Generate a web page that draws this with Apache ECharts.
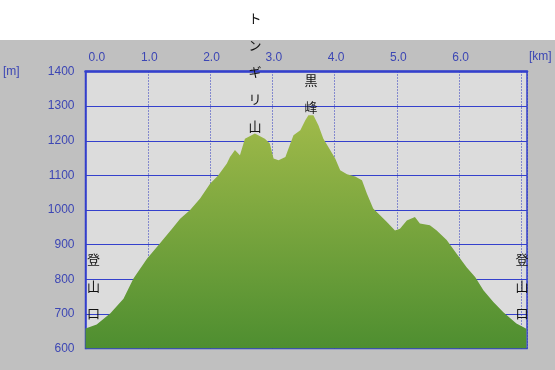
<!DOCTYPE html>
<html>
<head>
<meta charset="utf-8">
<script src="https://cdn.jsdelivr.net/npm/echarts@6/dist/echarts.min.js"></script>
<style>
html,body{margin:0;padding:0;background:#fff;}
#c{width:555px;height:370px;}
</style>
</head>
<body>
<div id="c"></div>
<script>
// distance along trail [km]
const distKm = [0.00,0.18,0.40,0.61,0.77,0.99,1.17,1.39,1.52,1.68,1.84,2.00,2.13,2.27,2.32,2.40,2.48,2.56,2.72,2.88,2.96,3.02,3.10,3.21,3.29,3.34,3.45,3.53,3.58,3.66,3.74,3.82,3.90,4.01,4.09,4.20,4.33,4.44,4.52,4.62,4.73,4.84,4.97,5.05,5.16,5.29,5.37,5.53,5.64,5.80,5.96,6.12,6.26,6.39,6.55,6.71,6.92,7.08];
// elevation [m]
const elevM = [658,669,702,744,802,860,898,946,975,1000,1033,1076,1100,1134,1153,1173,1158,1206,1221,1206,1192,1149,1144,1153,1192,1216,1230,1259,1274,1274,1245,1206,1182,1149,1115,1103,1097,1086,1047,1004,985,965,941,946,970,980,961,956,941,913,874,835,806,768,734,705,672,657];
// tick values
const yTicks = [600,700,800,900,1000,1100,1200,1300,1400];
const xTickLabels = ['0.0','1.0','2.0','3.0','4.0','5.0','6.0'];
// place names (vertical text) with km position
const places = [
  {name:'トンギリ山', km:2.72},
  {name:'黒峰', km:3.62},
  {name:'登山口', km:0.13},
  {name:'登山口', km:7.01}
];

const blue = '#3440cc';
const labelBlue = '#3c46b4';
const chart = echarts.init(document.getElementById('c'), null, {renderer:'canvas'});
const points = distKm.map((d,i)=>[d, elevM[i]]);

chart.setOption({
  animation:false,
  backgroundColor:'#c0c0c0',
  grid:{left:85.5,right:28,top:71.5,bottom:21.5,show:true,backgroundColor:'#dcdcdc',borderColor:blue,borderWidth:1.5},
  xAxis:{
    type:'value', position:'top', min:0, max:7.09, interval:1,
    axisLine:{show:true,lineStyle:{color:blue,width:2.5}},
    axisTick:{show:false},
    axisLabel:{color:labelBlue,fontFamily:'Liberation Sans',fontSize:12,margin:8,alignMinLabel:'left',padding:[0,0,0,3],
      formatter:v=>{const i=Math.round(v);return (Math.abs(v-i)<1e-6 && i<xTickLabels.length)?xTickLabels[i]:'';}},
    splitLine:{show:true,lineStyle:{color:'#2a36c0',width:1,type:[1,2]}}
  },
  yAxis:{
    type:'value', min:yTicks[0], max:yTicks[yTicks.length-1], interval:100,
    axisLine:{show:true,lineStyle:{color:blue,width:1.5}},
    axisTick:{show:false},
    axisLabel:{color:labelBlue,fontFamily:'Liberation Sans',fontSize:12,margin:11,formatter:v=>String(v)},
    splitLine:{show:true,lineStyle:{color:blue,width:1}}
  },
  series:[{
    type:'line', data:points, symbol:'none', smooth:false, z:1,
    lineStyle:{width:0},
    areaStyle:{opacity:1,color:new echarts.graphic.LinearGradient(0,0,0,1,[
      {offset:0,color:'#a0ba4a'},{offset:1,color:'#4e8e30'}])}
  }]
});

// axis unit labels and place names
const g = [
  {type:'rect',shape:{x:0,y:0,width:555,height:40},style:{fill:'#ffffff'},z:-100,silent:true},
  {type:'text',left:3,top:66,style:{text:'[m]',fill:labelBlue,font:'12px Liberation Sans'},z:100},
  {type:'text',left:529,top:51,style:{text:'[km]',fill:labelBlue,font:'12px Liberation Sans'},z:100}
];
const tops = [5,67,246,246];
places.forEach((p,idx)=>{
  const x = chart.convertToPixel({gridIndex:0},[p.km,1000])[0];
  g.push({type:'text',x:x,y:tops[idx],z:100,
    style:{text:p.name.split('').join('\n'),fill:'#111',font:'13px "Noto Sans CJK JP"',lineHeight:27,align:'center',verticalAlign:'top'}});
});
chart.setOption({graphic:g});
</script>
</body>
</html>
